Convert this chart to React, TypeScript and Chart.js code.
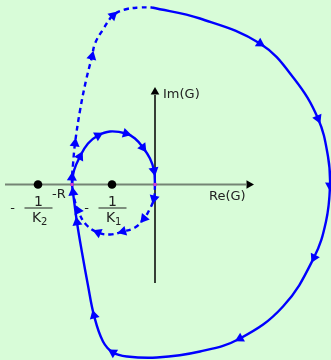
import { useEffect, useRef } from "react";
import { Chart, registerables } from "chart.js";

Chart.register(...registerables);

type P = [number, number];

// Nyquist contour of G on the Re/Im plane (origin at the axes crossing).
// Large solid arc: image of the big half-circle, traversed clockwise.
const outerSolid: P[] = [
  [-3, 177], [45, 166], [105, 141], [139, 106], [163, 66], [173, 28],
  [175, -1], [171, -37], [159, -73], [128, -122], [85, -154], [45, -167],
  [2, -173], [-28, -172], [-42, -168], [-52, -157], [-61, -131], [-67, -101],
  [-73, -68], [-78, -38], [-82, -8], [-83, 0],
];

// Dashed return branch from -R up to the top of the large arc.
const outerDashed: P[] = [
  [-83, 0], [-83, 7], [-82, 20], [-80, 41], [-75, 74], [-69, 104],
  [-63, 128], [-60, 141], [-52, 155], [-42, 169], [-30, 175], [-15, 177],
  [-3, 177],
];

// Small loop between -R and the origin: upper half solid, lower half dashed.
const loopSolid: P[] = [
  [-83, 0], [-81, 14], [-75, 28], [-67, 41], [-57, 49], [-45, 53],
  [-29, 51], [-20, 46], [-12, 37], [-5, 26], [-1, 14], [0, 0],
];

const loopDashed: P[] = [
  [0, 0], [-1, -14], [-6, -26], [-11, -34], [-20, -43], [-32, -47],
  [-45, -50], [-57, -48], [-69, -40], [-77, -26], [-81, -13], [-83, 0],
];

// Vertices of each branch that carry a direction arrow.
const outerSolidArrows = [2, 4, 6, 8, 10, 14, 16, 19, 20];
const outerDashedArrows = [1, 3, 6, 9];
const loopSolidArrows = [2, 4, 6, 8, 10];
const loopDashedArrows = [1, 3, 5, 7, 9];

// Critical points -1/K2 and -1/K1 on the real axis.
const poles = [-117, -43];
const poleSubscripts = ["2", "1"];
// Real-axis crossings of the contour: -R and the origin.
const crossings = [-83, 0];

// Axis extents.
const reAxis = [-150, 91];
const imAxis = [-98.5, 89.5];
const reTip = 94;
const imTip = 92.5;

const BLUE = "#0000ff";
const BG = "#d8fcd8";
const TEXT = "#222222";
const FONT = "DejaVu Sans, sans-serif";

const toXY = (c: P[]) => c.map(([x, y]) => ({ x, y }));

function arrowsOf(curve: P[], idx: number[]) {
  return idx.map((i) => {
    const a = curve[Math.max(0, i - 1)];
    const b = curve[Math.min(curve.length - 1, i + 1)];
    const rot = (Math.atan2(b[0] - a[0], b[1] - a[1]) * 180) / Math.PI;
    return { x: curve[i][0], y: curve[i][1], rot };
  });
}

const background = {
  id: "background",
  beforeDraw(chart: any) {
    const { ctx, width, height } = chart;
    ctx.save();
    ctx.fillStyle = BG;
    ctx.fillRect(0, 0, width, height);
    ctx.restore();
  },
};

const labels = {
  id: "labels",
  afterDatasetsDraw(chart: any) {
    const { ctx } = chart;
    const xs = chart.scales.x;
    const ys = chart.scales.y;
    const ox = xs.getPixelForValue(0);
    const oy = ys.getPixelForValue(0);
    ctx.save();
    ctx.fillStyle = TEXT;
    ctx.strokeStyle = TEXT;
    ctx.textBaseline = "alphabetic";
    ctx.font = `13px ${FONT}`;
    ctx.textAlign = "left";
    ctx.fillText("Im(G)", ox + 8, ys.getPixelForValue(imTip) + 6);
    ctx.fillText("Re(G)", xs.getPixelForValue(reAxis[0]) + 204, oy + 15);
    ctx.fillText("-R", xs.getPixelForValue(crossings[0]) - 20, oy + 13);

    poles.forEach((p, i) => {
      const px = xs.getPixelForValue(p) + 0.5;
      ctx.font = `14px ${FONT}`;
      ctx.textAlign = "center";
      ctx.fillText("1", px, oy + 21.5);
      ctx.font = `13px ${FONT}`;
      ctx.fillText("-", px - 26, oy + 27.5);
      ctx.lineWidth = 1;
      ctx.beginPath();
      ctx.moveTo(px - 14, oy + 23.5);
      ctx.lineTo(px + 14, oy + 23.5);
      ctx.stroke();
      ctx.textAlign = "left";
      ctx.font = `14px ${FONT}`;
      ctx.fillText("K", px - 6.5, oy + 37.5);
      ctx.font = `10px ${FONT}`;
      ctx.fillText(poleSubscripts[i], px + 2.5, oy + 40.5);
    });
    ctx.restore();
  },
};

export default function App() {
  const ref = useRef<HTMLCanvasElement | null>(null);

  useEffect(() => {
    document.body.style.margin = "0";
    document.body.style.background = BG;
    const canvas = ref.current;
    if (!canvas) return;

    const arrows = [
      ...arrowsOf(outerSolid, outerSolidArrows),
      ...arrowsOf(outerDashed, outerDashedArrows),
      ...arrowsOf(loopSolid, loopSolidArrows),
      ...arrowsOf(loopDashed, loopDashedArrows),
    ];

    const curve = (data: P[], dashed: boolean) => ({
      data: toXY(data),
      showLine: true,
      borderColor: BLUE,
      borderWidth: 2.4,
      borderDash: dashed ? [5, 4] : [],
      pointRadius: 0,
      tension: 0.4,
      cubicInterpolationMode: "default",
      order: 5,
    });

    const chart = new Chart(canvas, {
      type: "scatter",
      data: {
        datasets: [
          {
            data: [{ x: reAxis[0], y: 0 }, { x: reAxis[1], y: 0 }],
            showLine: true,
            borderColor: "#748474",
            borderWidth: 2,
            pointRadius: 0,
            order: 9,
          },
          {
            data: [{ x: 0, y: imAxis[0] }, { x: 0, y: imAxis[1] }],
            showLine: true,
            borderColor: "#000000",
            borderWidth: 1.5,
            pointRadius: 0,
            order: 8,
          },
          {
            data: [{ x: reTip, y: 0 }, { x: 0, y: imTip }],
            pointStyle: "triangle",
            pointRotation: [90, 0],
            pointRadius: 5,
            pointBackgroundColor: "#000000",
            pointBorderWidth: 0,
            order: 7,
          },
          curve(outerSolid, false),
          curve(outerDashed, true),
          curve(loopSolid, false),
          curve(loopDashed, true),
          {
            data: arrows.map(({ x, y }) => ({ x, y })),
            pointStyle: "triangle",
            pointRotation: arrows.map((a) => a.rot),
            pointRadius: 5.8,
            pointBackgroundColor: BLUE,
            pointBorderWidth: 0,
            order: 3,
          },
          {
            data: poles.map((x) => ({ x, y: 0 })),
            pointStyle: "circle",
            pointRadius: 4.3,
            pointBackgroundColor: "#000000",
            pointBorderWidth: 0,
            order: 2,
          },
          {
            data: crossings.map((x) => ({ x, y: 0 })),
            pointStyle: "rect",
            pointRadius: 2.2,
            pointBackgroundColor: "#d23cd2",
            pointBorderWidth: 0,
            order: 1,
          },
        ] as any,
      },
      options: {
        responsive: false,
        animation: false,
        events: [],
        layout: { padding: 0, autoPadding: false },
        plugins: { legend: { display: false }, tooltip: { enabled: false } },
        scales: {
          x: { type: "linear", min: -155, max: 176, display: false },
          y: { type: "linear", min: -175.5, max: 184.5, display: false },
        },
      },
      plugins: [background, labels],
    });

    return () => chart.destroy();
  }, []);

  return <canvas ref={ref} width={331} height={360} style={{ display: "block" }} />;
}
